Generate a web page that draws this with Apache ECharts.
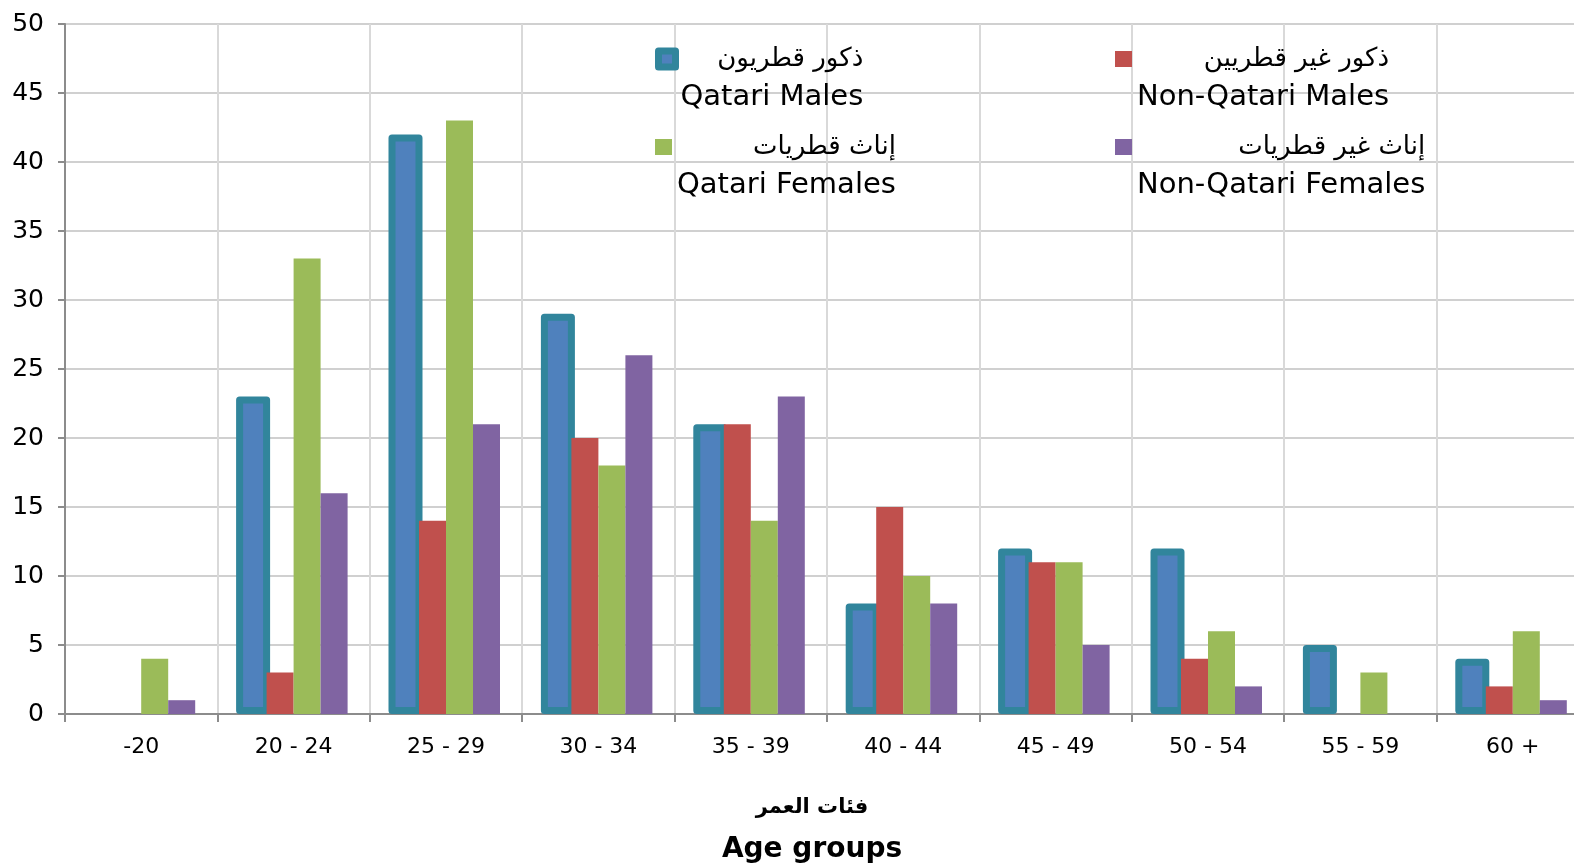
<!DOCTYPE html>
<html>
<head>
<meta charset="utf-8">
<script src="https://cdn.jsdelivr.net/npm/echarts@6/dist/echarts.min.js"></script>
<style>
html,body{margin:0;padding:0;background:#fff;}
#chart{width:1574px;height:866px;}
</style>
</head>
<body>
<div id="chart"></div>
<script>
const categories = ['-20', '20 - 24', '25 - 29', '30 - 34', '35 - 39', '40 - 44', '45 - 49', '50 - 54', '55 - 59', '60 +'];
const qatariMales = [0, 23, 42, 29, 21, 8, 12, 12, 5, 4];
const nonQatariMales = [0, 3, 14, 20, 21, 15, 11, 4, 0, 2];
const qatariFemales = [4, 33, 43, 18, 14, 10, 11, 6, 3, 6];
const nonQatariFemales = [1, 16, 21, 26, 23, 8, 5, 2, 0, 1];
const seriesNames = ['Qatari Males', 'Non-Qatari Males', 'Qatari Females', 'Non-Qatari Females'];
const arabicNames = ['ذكور قطريون', 'ذكور غير قطريين', 'إناث قطريات', 'إناث غير قطريات'];
const yTicks = [0, 5, 10, 15, 20, 25, 30, 35, 40, 45, 50];
const axisNameArabic = 'فئات العمر';
const axisNameEnglish = 'Age groups';

const FONT = '"DejaVu Sans", "Liberation Sans", sans-serif';
const colors = ['#4F81BD', '#C0504D', '#9BBB59', '#8064A2'];
const qmBorder = '#31859C';
const hide0 = arr => arr.map(v => (v === 0 ? '-' : v));
const blank = categories.map(() => '-');

const chart = echarts.init(document.getElementById('chart'), null, {renderer: 'canvas'});

function makeLegend(i, left, top) {
  const item = {name: seriesNames[i]};
  if (i === 0) {
    item.itemStyle = {color: colors[0], borderColor: qmBorder, borderWidth: 7, borderJoin: 'round'};
  } else {
    item.itemStyle = {color: colors[i], borderWidth: 0};
  }
  return {
    left: left, top: top, padding: 0,
    itemWidth: 17, itemHeight: 16,
    icon: 'rect',
    selectedMode: false,
    data: [item],
    formatter: name => '{ar|' + arabicNames[seriesNames.indexOf(name)] + '}\n{en|' + name + '}',
    textStyle: {
      fontFamily: FONT,
      color: '#000',
      padding: [38, 0, 0, 0],
      rich: {
        ar: {fontFamily: FONT, fontSize: 26, lineHeight: 38, align: 'right', color: '#000'},
        en: {fontFamily: FONT, fontSize: 29, lineHeight: 38, align: 'right', color: '#000'}
      }
    }
  };
}

const option = {
  backgroundColor: '#ffffff',
  animation: false,
  textStyle: {fontFamily: FONT},
  grid: {left: 65, width: 1524, top: 24, bottom: 152, containLabel: false, outerBoundsMode: 'none'},
  legend: [
    makeLegend(0, 655, 46),
    makeLegend(1, 1115, 46),
    makeLegend(2, 655, 134),
    makeLegend(3, 1115, 134)
  ],
  xAxis: [{
    type: 'category',
    data: categories,
    boundaryGap: true,
    axisLine: {show: true, lineStyle: {color: '#8c8c8c', width: 2}},
    axisTick: {show: true, length: 8, lineStyle: {color: '#8c8c8c', width: 2}},
    axisLabel: {color: '#000', fontSize: 22, fontFamily: FONT, margin: 22, interval: 0},
    splitLine: {show: true, lineStyle: {color: '#d9d9d9', width: 2}},
    name: '{ar|' + axisNameArabic + '}\n{en|' + axisNameEnglish + '}',
    nameLocation: 'middle',
    nameGap: 73,
    nameTextStyle: {
      padding: [0, 30, 0, 0],
      rich: {
        ar: {fontFamily: FONT, fontSize: 21, fontWeight: 'bold', lineHeight: 42, color: '#000', align: 'center'},
        en: {fontFamily: FONT, fontSize: 28, fontWeight: 'bold', lineHeight: 42, color: '#000', align: 'center'}
      }
    }
  }, {
    type: 'category',
    data: categories,
    show: false,
    position: 'bottom'
  }],
  yAxis: {
    type: 'value',
    min: yTicks[0],
    max: yTicks[yTicks.length - 1],
    interval: yTicks[1] - yTicks[0],
    axisLine: {show: true, lineStyle: {color: '#8c8c8c', width: 2}},
    axisTick: {show: true, length: 7, lineStyle: {color: '#8c8c8c', width: 2}},
    axisLabel: {color: '#000', fontSize: 25, fontFamily: FONT, margin: 21},
    splitLine: {show: true, lineStyle: {color: '#d0d0d0', width: 2}}
  },
  series: [
    {
      name: seriesNames[0], type: 'bar', xAxisIndex: 1, data: hide0(qatariMales), barWidth: 34, barGap: '0%',
      itemStyle: {color: colors[0], borderColor: qmBorder, borderWidth: 7, borderJoin: 'round'}
    },
    {
      name: 'spacer', type: 'bar', xAxisIndex: 1, data: blank, barWidth: 81, barGap: '0%',
      itemStyle: {color: 'rgba(0,0,0,0)'}, silent: true
    },
    {
      name: 'placeholder', type: 'bar', xAxisIndex: 0, data: blank, barWidth: 27, barGap: '0%',
      itemStyle: {color: 'rgba(0,0,0,0)'}, silent: true
    },
    {
      name: seriesNames[1], type: 'bar', xAxisIndex: 0, data: hide0(nonQatariMales), barWidth: 27, barGap: '0%',
      itemStyle: {color: colors[1]}
    },
    {
      name: seriesNames[2], type: 'bar', xAxisIndex: 0, data: hide0(qatariFemales), barWidth: 27, barGap: '0%',
      itemStyle: {color: colors[2]}
    },
    {
      name: seriesNames[3], type: 'bar', xAxisIndex: 0, data: hide0(nonQatariFemales), barWidth: 27, barGap: '0%',
      itemStyle: {color: colors[3]}
    }
  ]
};
chart.setOption(option);
</script>
</body>
</html>
